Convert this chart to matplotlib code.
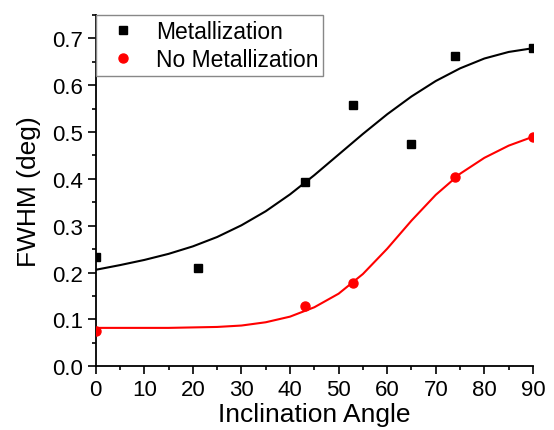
import matplotlib
matplotlib.use("Agg")
import matplotlib.pyplot as plt
from matplotlib.ticker import MultipleLocator, FormatStrFormatter

plt.rcParams['font.family'] = ['Liberation Sans', 'DejaVu Sans']

# measured points
met_x = [0, 21, 43, 53, 65, 74, 90]
met_y = [0.234, 0.209, 0.393, 0.558, 0.474, 0.663, 0.679]
nomet_x = [0, 43, 53, 74, 90]
nomet_y = [0.076, 0.128, 0.177, 0.405, 0.490]

# fitted curves
fit_x = [0, 5, 10, 15, 20, 25, 30, 35, 40, 45, 50, 55, 60, 65, 70, 75, 80, 85, 90]
met_fit_y = [0.206, 0.216, 0.227, 0.240, 0.256, 0.276, 0.301, 0.331, 0.367, 0.408, 0.452,
             0.496, 0.538, 0.576, 0.609, 0.636, 0.657, 0.671, 0.679]
nomet_fit_y = [0.082, 0.082, 0.082, 0.082, 0.083, 0.084, 0.087, 0.094, 0.106, 0.126, 0.155,
               0.197, 0.251, 0.311, 0.366, 0.411, 0.445, 0.471, 0.490]

fig = plt.figure(figsize=(5.54, 4.31), dpi=100)
ax = fig.add_axes([0.1727, 0.1478, 0.962 - 0.1727, 0.963 - 0.1478])

ax.plot(fit_x, met_fit_y, color='black', lw=1.5, zorder=2)
ax.plot(fit_x, nomet_fit_y, color='red', lw=1.5, zorder=2)
ax.plot(met_x, met_y, 's', color='black', ms=6, label='Metallization', zorder=3)
ax.plot(nomet_x, nomet_y, 'o', color='red', ms=6.5, label='No Metallization', zorder=3)

ax.set_xlim(0, 90)
ax.set_ylim(0, 0.75)
ax.xaxis.set_major_locator(MultipleLocator(10))
ax.xaxis.set_minor_locator(MultipleLocator(5))
ax.yaxis.set_major_locator(MultipleLocator(0.1))
ax.yaxis.set_minor_locator(MultipleLocator(0.05))
ax.yaxis.set_major_formatter(FormatStrFormatter('%.1f'))

for s in ['top', 'right']:
    ax.spines[s].set_visible(False)
for s in ['left', 'bottom']:
    ax.spines[s].set_linewidth(1.3)

ax.tick_params(which='major', direction='out', length=5.5, width=1.2, labelsize=16, pad=3.5)
ax.tick_params(which='minor', direction='out', length=3, width=1.2)

ax.set_xlabel('Inclination Angle', fontsize=19, labelpad=1.5)
ax.set_ylabel('FWHM (deg)', fontsize=19, labelpad=8)

leg = ax.legend(loc='upper left', bbox_to_anchor=(0, 1), borderaxespad=0, fontsize=16.5,
                fancybox=False, framealpha=1, edgecolor='#888888', handlelength=2.0,
                handletextpad=0.45, borderpad=0.2, labelspacing=0.25)
leg.get_frame().set_linewidth(1.0)

fig.savefig('out.png', dpi=100)
